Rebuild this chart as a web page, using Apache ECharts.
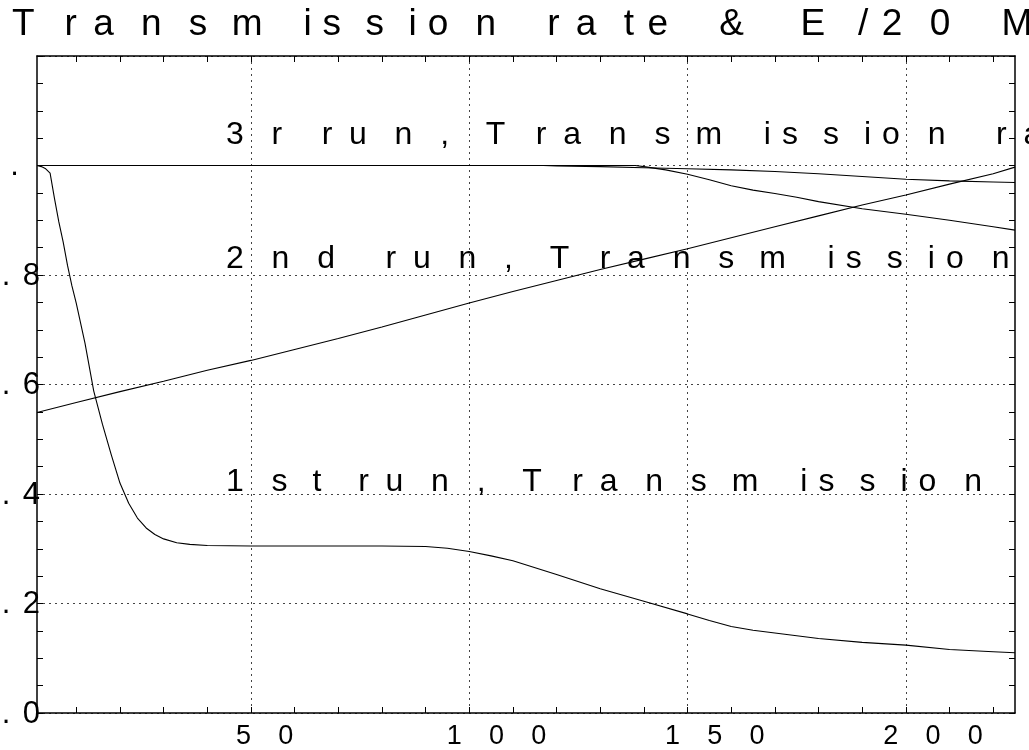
<!DOCTYPE html>
<html>
<head>
<meta charset="utf-8">
<script src="https://cdn.jsdelivr.net/npm/echarts@6/dist/echarts.min.js"></script>
<style>
  html, body { margin: 0; padding: 0; background: #fff; }
  #chart { width: 1029px; height: 750px; }
</style>
</head>
<body>
<div id="chart"></div>
<script>
const titleText = 'Transmission rate & E/20 MeV'
const runLabels = ['3r run, Transmission rate', '2nd run, Transmission rate', '1st run, Transmission rate']
const xTickValues = [10, 20, 30, 40, 50, 60, 70, 80, 90, 100, 110, 120, 130, 140, 150, 160, 170, 180, 190, 200, 210, 220]
const xLabelValues = [50, 100, 150, 200]

// E/20 MeV
const energyX = [1, 10, 20, 30, 40, 50, 60, 70, 80, 90, 100, 110, 120, 130, 140, 150, 160, 170, 180, 190, 200, 210, 220, 225]
const energyY = [0.549, 0.567, 0.587, 0.606, 0.626, 0.644, 0.664, 0.684, 0.705, 0.727, 0.749, 0.770, 0.790, 0.810, 0.829, 0.848, 0.868, 0.888, 0.908, 0.928, 0.946, 0.966, 0.985, 0.997]

// 1st run
const run1X = [1, 2, 3, 4, 5, 6, 7, 8, 9, 10, 12, 14, 16, 18, 20, 22, 24, 26, 28, 30, 33, 36, 40, 50, 60, 70, 80, 90, 95, 100, 105, 110, 120, 130, 140, 150, 155, 160, 165, 170, 180, 190, 200, 210, 220, 225]
const run1Y = [1.0, 0.998, 0.994, 0.986, 0.94, 0.897, 0.86, 0.817, 0.78, 0.748, 0.675, 0.588, 0.527, 0.472, 0.42, 0.383, 0.356, 0.338, 0.326, 0.318, 0.311, 0.308, 0.306, 0.305, 0.305, 0.305, 0.305, 0.304, 0.301, 0.295, 0.287, 0.278, 0.253, 0.227, 0.204, 0.181, 0.169, 0.158, 0.151, 0.146, 0.136, 0.129, 0.124, 0.116, 0.112, 0.110]

// 2nd run
const run2X = [1, 50, 100, 138, 140, 145, 150, 155, 160, 165, 170, 175, 180, 190, 200, 210, 220, 225]
const run2Y = [1.0, 1.0, 1.0, 1.0, 0.998, 0.992, 0.984, 0.974, 0.963, 0.955, 0.949, 0.942, 0.934, 0.921, 0.911, 0.900, 0.888, 0.882]

// 3rd run
const run3X = [1, 50, 100, 117, 120, 130, 140, 150, 160, 170, 180, 190, 200, 210, 220, 225]
const run3Y = [1.0, 1.0, 1.0, 1.0, 0.999, 0.998, 0.996, 0.994, 0.992, 0.989, 0.985, 0.980, 0.975, 0.972, 0.970, 0.969]

const FONT = '"Liberation Sans", Arial, sans-serif'
const ctx = document.createElement('canvas').getContext('2d')
const advance = (ch, px) => {
  ctx.font = `${px}px ${FONT}`
  return ctx.measureText(ch).width
}

// the old plot package stretches the character pitch but keeps the glyph size
const wideRich = (chars, size, pitch) => {
  const rich = {}
  new Set([...chars]).forEach((ch) => {
    const code = ch.charCodeAt(0)
    const base = {
      fontSize: size, fontFamily: FONT, fontWeight: 'normal', color: '#000', lineHeight: size, align: 'left',
    }
    rich[`s${code}`] = { ...base, width: advance(ch, pitch) }
    rich[`n${code}`] = { ...base, width: advance(ch, size) }
  })
  return rich
}
const wide = (str, lastNatural = false) => {
  const chars = [...str]
  return chars.map((ch, i) => {
    const key = lastNatural && i === chars.length - 1 ? 'n' : 's'
    return `{${key}${ch.charCodeAt(0)}|${ch}}`
  }).join('')
}

const zip = (xs, ys) => xs.map((x, i) => [x, ys[i]])

const X_SIZE = 27
const X_PITCH = 76
const xRich = wideRich('0123456789', X_SIZE, X_PITCH)
// labels were centred on their natural width, so push the wide text back
xLabelValues.forEach((v) => {
  const s = String(v)
  const spread = [...s].reduce((a, ch) => a + advance(ch, X_PITCH), 0)
  const natural = [...s].reduce((a, ch) => a + advance(ch, X_SIZE), 0)
  xRich[`p${v}`] = {
    width: spread - natural, fontSize: X_SIZE, fontFamily: FONT, align: 'left',
  }
})

const yRich = wideRich('0123456789. ', 31, 76)
const annoRich = wideRich(runLabels.join(''), 32, 82)
const labelTops = [119, 243, 466]

const dotted = { color: '#444', width: 1, type: [2, 4] }
const black = { color: '#000', width: 1.5 }

const lineSeries = (name, xs, ys) => ({
  name,
  type: 'line',
  data: zip(xs, ys),
  showSymbol: false,
  symbol: 'none',
  lineStyle: { color: '#000', width: 1.1 },
  z: 3,
})

const chart = echarts.init(document.getElementById('chart'))
chart.setOption({
  animation: false,
  backgroundColor: '#fff',
  textStyle: { fontFamily: FONT, color: '#000' },
  title: {
    text: wide(titleText),
    left: 12,
    top: 6,
    padding: 0,
    textStyle: { fontWeight: 'normal', rich: wideRich(titleText, 37, 86) },
  },
  grid: {
    left: 37, right: 14, top: 56, bottom: 37, containLabel: false, outerBoundsMode: 'none',
  },
  xAxis: [
    {
      type: 'value',
      min: 1,
      max: 225,
      position: 'bottom',
      axisLine: { lineStyle: black },
      axisTick: {
        inside: true, length: 6, customValues: xTickValues, lineStyle: { color: '#000' },
      },
      axisLabel: {
        customValues: xLabelValues,
        margin: 10,
        rich: xRich,
        formatter: (v) => `{p${v}| }${wide(String(v))}`,
      },
      splitLine: { show: false },
    },
    {
      type: 'value',
      min: 1,
      max: 225,
      position: 'bottom',
      axisLine: { show: false },
      axisTick: { show: false, customValues: xLabelValues },
      axisLabel: { show: false },
      splitLine: { show: true, lineStyle: dotted },
    },
    {
      type: 'value',
      min: 1,
      max: 225,
      position: 'top',
      axisLine: { lineStyle: black },
      axisTick: {
        inside: true, length: 6, customValues: xTickValues, lineStyle: { color: '#000' },
      },
      axisLabel: { show: false },
      splitLine: { show: false },
    },
  ],
  yAxis: [
    {
      type: 'value',
      min: 0,
      max: 1.2,
      interval: 0.2,
      position: 'left',
      axisLine: { show: true, lineStyle: black },
      axisTick: {
        show: true, inside: true, length: 6, lineStyle: { color: '#000' },
      },
      minorTick: {
        show: true, splitNumber: 4, length: 6, lineStyle: { color: '#000' },
      },
      axisLabel: {
        margin: -3,
        padding: [2, 0, 0, 0],
        rich: yRich,
        formatter: (v) => {
          if (v > 1.1) return ''
          const s = Math.abs(v - 1) < 1e-6 ? '1. ' : v.toFixed(1)
          return wide(s, true)
        },
      },
      splitLine: { show: true, lineStyle: dotted },
    },
    {
      type: 'value',
      min: 0,
      max: 1.2,
      interval: 0.2,
      position: 'right',
      axisLine: { show: true, lineStyle: black },
      axisTick: {
        show: true, inside: true, length: 6, lineStyle: { color: '#000' },
      },
      minorTick: {
        show: true, splitNumber: 4, length: 6, lineStyle: { color: '#000' },
      },
      axisLabel: { show: false },
      splitLine: { show: false },
    },
  ],
  graphic: runLabels.map((label, i) => ({
    type: 'text',
    left: 226,
    top: labelTops[i],
    z: 10,
    style: { text: wide(label), rich: annoRich },
  })),
  series: [
    lineSeries('E/20 MeV', energyX, energyY),
    lineSeries('1st run', run1X, run1Y),
    lineSeries('2nd run', run2X, run2Y),
    lineSeries('3rd run', run3X, run3Y),
  ],
})
</script>
</body>
</html>
